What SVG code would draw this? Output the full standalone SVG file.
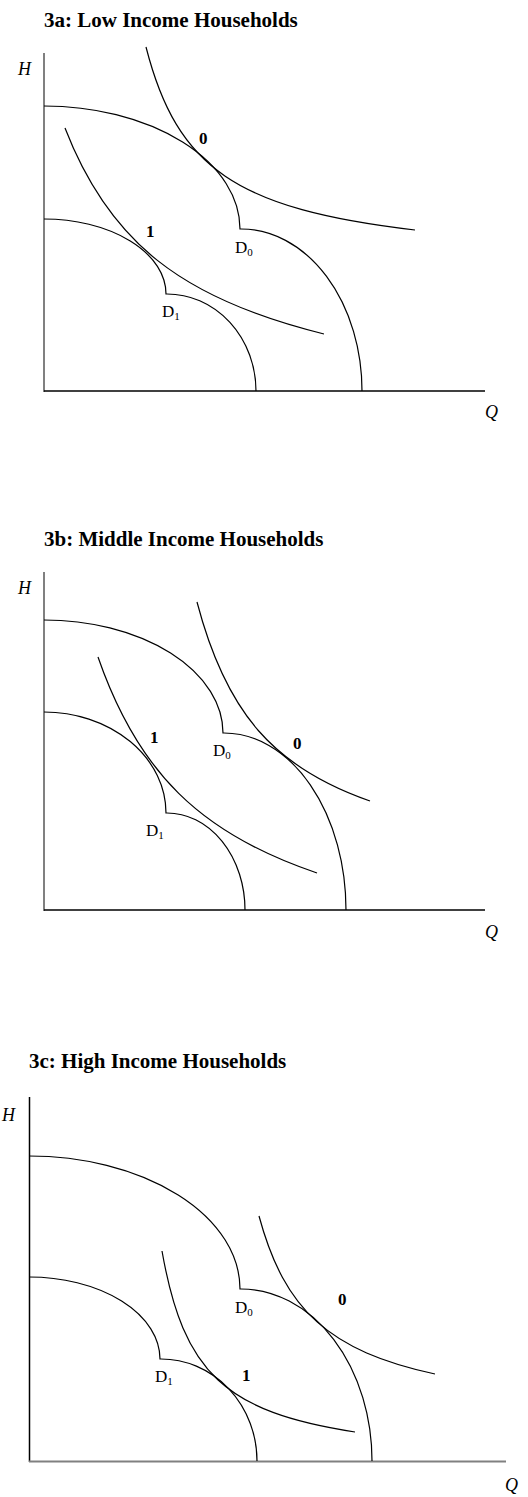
<svg xmlns="http://www.w3.org/2000/svg" width="528" height="1497" viewBox="0 0 528 1497">
<style>
.title{font-family:"Liberation Serif","Times New Roman",serif;font-weight:bold;font-size:21px;fill:#000}
.ax{font-family:"Liberation Serif","Times New Roman",serif;font-style:italic;font-size:18px;fill:#000}
.pt{font-family:"Liberation Serif","Times New Roman",serif;font-weight:bold;font-size:17px;fill:#000}
.lab{font-family:"Liberation Serif","Times New Roman",serif;font-size:17px;fill:#000}
.sub{font-size:11px}
.c{fill:none;stroke:#000;stroke-width:1.2}
.axk{stroke:#000;stroke-width:1.5}
.axg{stroke:#808080;stroke-width:2}
</style>
<rect width="528" height="1497" fill="#fff"/>

<g id="panel-3a">
  <text class="title" x="44" y="27">3a: Low Income Households</text>
  <g id="axes-3a">
    <line class="axg" x1="44" y1="53" x2="44" y2="392"/>
    <line class="axk" x1="44" y1="391" x2="485" y2="391"/>
    <text class="ax" x="18" y="75">H</text>
    <text class="ax" x="485" y="418">Q</text>
  </g>
  <g id="D0-3a">
    <path class="c" d="M44,106 A196,123 0 0 1 240,229 L241,229 A121,162 0 0 1 362,391"/>
    <text class="lab" x="235" y="253">D<tspan class="sub" dy="3">0</tspan></text>
  </g>
  <g id="D1-3a">
    <path class="c" d="M44,219 A122,75 0 0 1 166,294 L167,294 A89,97 0 0 1 256,391"/>
    <text class="lab" x="162" y="317">D<tspan class="sub" dy="3">1</tspan></text>
  </g>
  <g id="I0-3a">
    <path class="c" d="M146,47 C177.1,168.5 236.5,209 415,230"/>
    <text class="pt" x="199" y="144">0</text>
  </g>
  <g id="I1-3a">
    <path class="c" d="M65,128 C108.85,241.4 181.2,299 324,334"/>
    <text class="pt" x="146" y="237">1</text>
  </g>
</g>

<g id="panel-3b">
  <text class="title" x="44" y="546">3b: Middle Income Households</text>
  <g id="axes-3b">
    <line class="axg" x1="44" y1="572" x2="44" y2="911"/>
    <line class="axk" x1="44" y1="910" x2="485" y2="910"/>
    <text class="ax" x="18" y="594">H</text>
    <text class="ax" x="485" y="938">Q</text>
  </g>
  <g id="D0-3b">
    <path class="c" d="M44,620 A179,113 0 0 1 223,733 L224,733 A122,177 0 0 1 346,910"/>
    <text class="lab" x="213" y="756">D<tspan class="sub" dy="3">0</tspan></text>
  </g>
  <g id="D1-3b">
    <path class="c" d="M44,712 A122,101 0 0 1 166,813 L167,813 A78,97 0 0 1 245,910"/>
    <text class="lab" x="146" y="836">D<tspan class="sub" dy="3">1</tspan></text>
  </g>
  <g id="I0-3b">
    <path class="c" d="M197,602 C226,712.7 273.8,767.6 370,801"/>
    <text class="pt" x="293" y="749">0</text>
  </g>
  <g id="I1-3b">
    <path class="c" d="M98,657 C137.85,772 200.35,833.7 317,873"/>
    <text class="pt" x="150" y="743">1</text>
  </g>
</g>

<g id="panel-3c">
  <text class="title" x="29" y="1068">3c: High Income Households</text>
  <g id="axes-3c">
    <line class="axk" x1="29.5" y1="1097" x2="29.5" y2="1462"/>
    <line class="axg" x1="29" y1="1461.5" x2="506" y2="1461.5"/>
    <text class="ax" x="2" y="1121">H</text>
    <text class="ax" x="505" y="1491">Q</text>
  </g>
  <g id="D0-3c">
    <path class="c" d="M29,1156 A211,133 0 0 1 240,1289 L241,1289 A131,172 0 0 1 372,1461"/>
    <text class="lab" x="235" y="1313">D<tspan class="sub" dy="3">0</tspan></text>
  </g>
  <g id="D1-3c">
    <path class="c" d="M29,1277 A131,82 0 0 1 160,1359 L161,1359 A96,102 0 0 1 257,1461"/>
    <text class="lab" x="155" y="1382">D<tspan class="sub" dy="3">1</tspan></text>
  </g>
  <g id="I0-3c">
    <path class="c" d="M259,1216 C284.6,1310.7 329.6,1351.1 435,1374"/>
    <text class="pt" x="338" y="1305">0</text>
  </g>
  <g id="I1-3c">
    <path class="c" d="M162,1251 C183.5,1373 225,1411.9 355,1432"/>
    <text class="pt" x="242" y="1381">1</text>
  </g>
</g>
</svg>
